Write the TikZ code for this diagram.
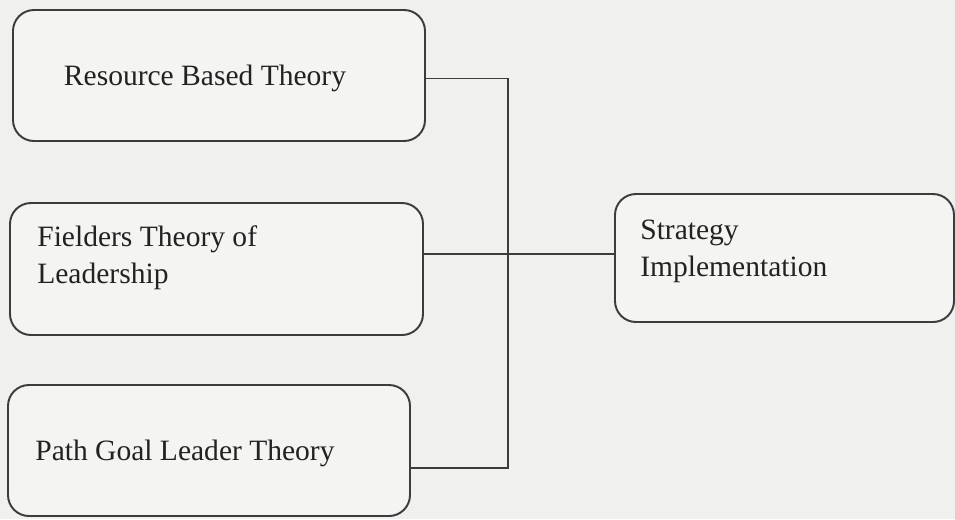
\documentclass[tikz,border=0pt]{standalone}
\usepackage{fontspec}
\setmainfont{Liberation Serif}
\usepackage{xcolor}
\usepackage{tikz}
\definecolor{paper}{HTML}{F0F0EF}
\definecolor{boxfill}{HTML}{F4F4F3}
\definecolor{inkgray}{HTML}{3C3C3C}
\definecolor{textgray}{HTML}{222222}

\begin{document}
\begin{tikzpicture}[
          box/.style={rectangle, rounded corners=0.42cm, draw=inkgray,
                      fill=boxfill, line width=1.1pt, inner sep=0pt},
          txt/.style={font=\fontsize{16.8}{21}\selectfont, text=textgray,
                      align=left, inner sep=0pt},
          conn/.style={draw=inkgray, line width=1.1pt}
        ]
        %% Page (scanned background)
        \useasboundingbox[fill=paper] (0,0) rectangle (19.1,-10.38);
        %% Theory boxes
        \node[box, minimum width=8.24cm, minimum height=2.62cm] (rbt)
              at (4.38,-1.51) {};
        \node[box, minimum width=8.26cm, minimum height=2.64cm] (flt)
              at (4.33,-5.38) {};
        \node[box, minimum width=8.04cm, minimum height=2.62cm] (pglt)
              at (4.18,-9.01) {};
        %% Outcome box
        \node[box, minimum width=6.78cm, minimum height=2.56cm] (si)
              at (15.69,-5.16) {};
        %% Box texts
        \node[txt] (rbt-txt) at (4.1,-1.56) {Resource Based Theory};
        \node[txt, anchor=north west] (flt-txt) at (0.74,-4.5)
              {Fielders Theory of\\Leadership};
        \node[txt, anchor=west] (pglt-txt) at (0.7,-9.06)
              {Path Goal Leader Theory};
        \node[txt, anchor=north west] (si-txt) at (12.8,-4.4)
              {Strategy\\Implementation};
        %% Connectors
        \coordinate (bus) at (10.16,0);
        \coordinate (rbt-out) at ([yshift=-0.06cm]rbt.east);
        \coordinate (pglt-out) at ([yshift=-0.35cm]pglt.east);
        \coordinate (si-in) at ([yshift=0.08cm]si.west);
        \draw[conn] (rbt-out) -| (bus |- pglt-out) -- (pglt-out);
        \draw[conn] (si-in) -- (si-in -| flt.east);
      \end{tikzpicture}
\end{document}
